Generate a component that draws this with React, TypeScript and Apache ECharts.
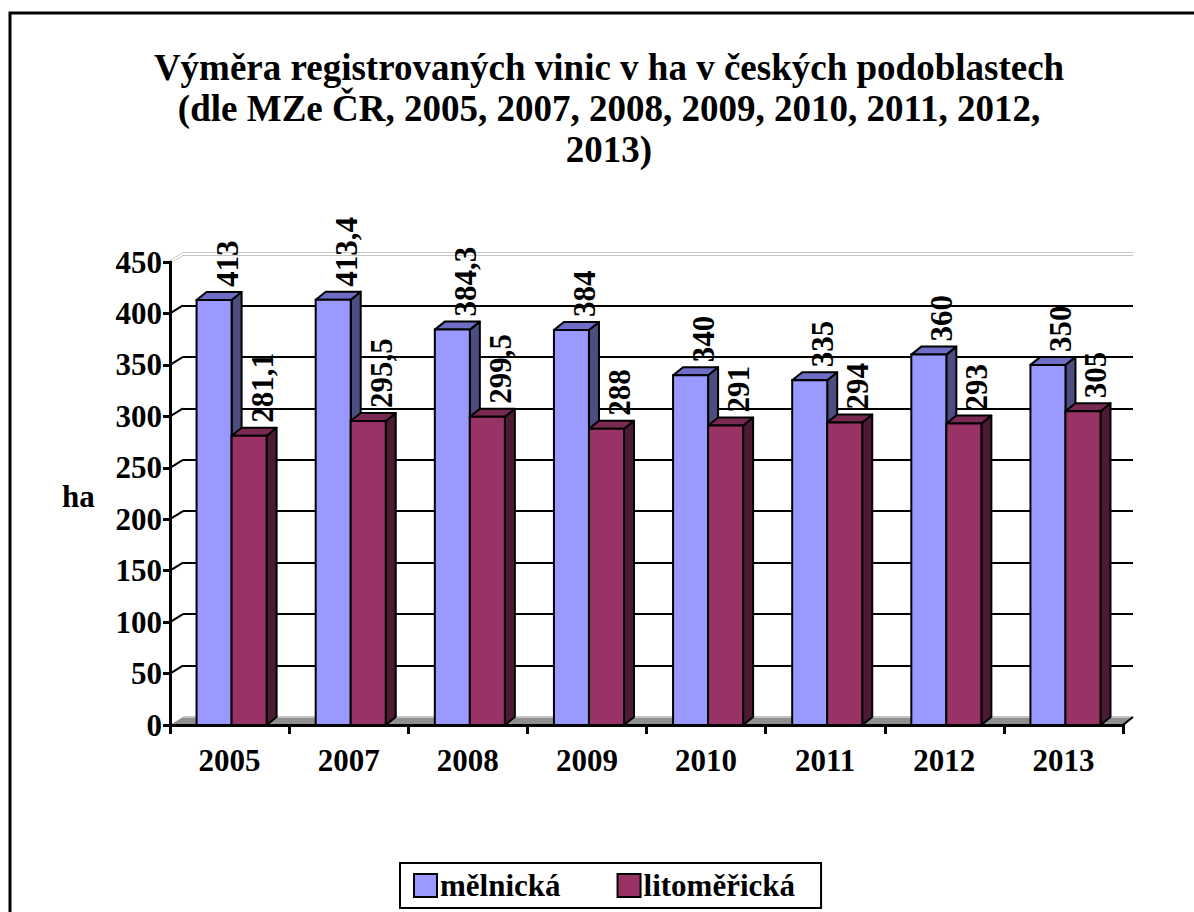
import React, { useEffect, useRef } from "react";
import * as echarts from "echarts";

const categories = ["2005", "2007", "2008", "2009", "2010", "2011", "2012", "2013"];
const melnicka = [413, 413.4, 384.3, 384, 340, 335, 360, 350];
const litomericka = [281.1, 295.5, 299.5, 288, 291, 294, 293, 305];
const yMin = 0;
const yMax = 450;
const yInterval = 50;
const yTickValues = [0, 50, 100, 150, 200, 250, 300, 350, 400, 450];
const titleLines = [
  "Výměra registrovaných vinic v ha v českých podoblastech",
  "(dle MZe ČR, 2005, 2007, 2008, 2009, 2010, 2011, 2012,",
  "2013)",
];
const seriesNames = ["mělnická", "litoměřická"];

const FONT = "Liberation Serif, Times New Roman, serif";
const DX = 10;
const DY = -8;
const WDX = 13;
const WDY = -8;

const palettes = [
  { front: "#9999FF", top: "#6E6EC6", side: "#4D4D80" },
  { front: "#993366", top: "#7A2952", side: "#4D1A33" },
];

const fmt = (v: number) => String(v).replace(".", ",");

function makeBarRender(sIdx: number) {
  const c = palettes[sIdx];
  return (params: any, api: any) => {
    const ci = api.value(0);
    const v = api.value(1);
    const b = api.coord([ci, 0]);
    const t = api.coord([ci, v]);
    const band = api.size([1, 0])[0];
    const w = band * 0.294;
    const off = band * 0.017;
    const x0 = b[0] + off + (sIdx === 0 ? -w : 0);
    const by = b[1];
    const ty = t[1];
    return {
      type: "group",
      children: [
        {
          type: "polygon",
          shape: { points: [[x0 + w, ty], [x0 + w + DX, ty + DY], [x0 + w + DX, by + DY], [x0 + w, by]] },
          style: { fill: c.side, stroke: "#000", lineWidth: 2, lineJoin: "round" },
        },
        {
          type: "polygon",
          shape: { points: [[x0, ty], [x0 + DX, ty + DY], [x0 + w + DX, ty + DY], [x0 + w, ty]] },
          style: { fill: c.top, stroke: "#000", lineWidth: 2, lineJoin: "round" },
        },
        {
          type: "rect",
          shape: { x: x0, y: ty, width: w, height: by - ty },
          style: { fill: c.front, stroke: "#000", lineWidth: 2 },
        },
        {
          type: "text",
          x: x0 + w / 2 + 13,
          y: ty + DY - 5,
          rotation: Math.PI / 2,
          z2: 20,
          style: {
            text: fmt(v),
            fill: "#000",
            fontSize: 31,
            fontWeight: "bold",
            fontFamily: FONT,
            align: "left",
            verticalAlign: "middle",
          },
        },
      ],
    };
  };
}

function decoRender(params: any, api: any) {
  const band = api.size([1, 0])[0];
  const L = api.coord([0, 0])[0] - band / 2;
  const R = api.coord([categories.length - 1, 0])[0] + band / 2;
  const y0 = api.coord([0, 0])[1];
  const children: any[] = [];
  children.push({
    type: "polygon",
    shape: { points: [[L, y0], [R, y0], [R + DX, y0 + WDY], [L + WDX, y0 + WDY]] },
    style: { fill: "#8F8F8F", stroke: null },
  });
  children.push({
    type: "line",
    shape: { x1: L + WDX, y1: y0 + WDY, x2: R + DX, y2: y0 + WDY },
    style: { stroke: "#C4C4C4", lineWidth: 2 },
  });
  children.push({
    type: "line",
    shape: { x1: R, y1: y0, x2: R + DX, y2: y0 + WDY },
    style: { stroke: "#000", lineWidth: 2 },
  });
  yTickValues.forEach((tv) => {
    const y = api.coord([0, tv])[1];
    if (tv === yMax) {
      [-1.5, 1.5].forEach((o) => {
        children.push({
          type: "polyline",
          shape: { points: [[L, y + o], [L + WDX, y + WDY + o], [R + DX, y + WDY + o]] },
          style: { stroke: "#C8C8C8", lineWidth: 1, fill: null },
        });
      });
    } else if (tv !== 0) {
      children.push({
        type: "line",
        shape: { x1: L, y1: y, x2: L + WDX, y2: y + WDY },
        style: { stroke: "#000", lineWidth: 2 },
      });
    }
  });
  return { type: "group", children };
}

export default function App() {
  const ref = useRef<HTMLDivElement>(null);
  useEffect(() => {
    if (!ref.current) return;
    const chart = echarts.init(ref.current, undefined, { renderer: "svg" });
    const option: any = {
      animation: false,
      backgroundColor: "#fff",
      title: {
        text: titleLines.join("\n"),
        left: 609,
        top: 47,
        padding: 0,
        textAlign: "center",
        textStyle: { fontFamily: FONT, fontSize: 37, fontWeight: "bold", color: "#000", lineHeight: 41 },
      },
      legend: {
        data: seriesNames,
        left: 400,
        top: 863,
        orient: "horizontal",
        itemWidth: 23,
        itemHeight: 23,
        itemGap: 56,
        icon: "rect",
        borderColor: "#000",
        borderWidth: 2,
        padding: [7, 26, 7, 13],
        textStyle: { fontFamily: FONT, fontSize: 31, fontWeight: "bold", color: "#000", padding: [0, 0, 0, -2] },
        selectedMode: false,
      },
      graphic: [
        {
          type: "rect",
          shape: { x: 10, y: 13, width: 1300, height: 1000 },
          style: { fill: null, stroke: "#000", lineWidth: 3 },
          silent: true,
          z: 100,
        },
        {
          type: "text",
          left: 62,
          top: 481,
          style: { text: "ha", fontFamily: FONT, fontSize: 31, fontWeight: "bold", fill: "#000" },
        },
      ],
      grid: [
        { left: 170, top: 262, width: 953, height: 463, containLabel: false },
        { left: 183, top: 254, width: 950, height: 463, containLabel: false },
      ],
      xAxis: [
        {
          type: "category",
          gridIndex: 0,
          data: categories,
          z: 10,
          axisLine: { show: true, lineStyle: { color: "#000", width: 3 } },
          axisTick: { show: true, length: 9, lineStyle: { color: "#000", width: 3 } },
          axisLabel: { fontFamily: FONT, fontSize: 31, fontWeight: "bold", color: "#000", margin: 20 },
          splitLine: { show: false },
        },
        {
          type: "category",
          gridIndex: 1,
          data: categories,
          show: false,
        },
      ],
      yAxis: [
        {
          type: "value",
          gridIndex: 0,
          min: yMin,
          max: yMax,
          interval: yInterval,
          z: 10,
          axisLine: { show: true, lineStyle: { color: "#000", width: 3 } },
          axisTick: { show: true, length: 7, lineStyle: { color: "#000", width: 3 } },
          axisLabel: { fontFamily: FONT, fontSize: 31, fontWeight: "bold", color: "#000", margin: 8 },
          splitLine: { show: false },
        },
        {
          type: "value",
          gridIndex: 1,
          min: yMin,
          max: yMax,
          interval: yInterval,
          axisLine: { show: false },
          axisTick: { show: false },
          axisLabel: { show: false },
          splitLine: { show: true, showMinLine: false, showMaxLine: false, lineStyle: { color: "#000", width: 2 } },
        },
      ],
      series: [
        {
          type: "custom",
          name: "deco",
          xAxisIndex: 0,
          yAxisIndex: 0,
          z: 1,
          silent: true,
          renderItem: decoRender,
          data: [[0, 0]],
          encode: { x: 0, y: 1 },
        },
        {
          type: "custom",
          name: seriesNames[0],
          xAxisIndex: 0,
          yAxisIndex: 0,
          z: 3,
          itemStyle: { color: palettes[0].front, borderColor: "#000", borderWidth: 2 },
          renderItem: makeBarRender(0),
          data: melnicka.map((v, i) => [i, v]),
          encode: { x: 0, y: 1 },
        },
        {
          type: "custom",
          name: seriesNames[1],
          xAxisIndex: 0,
          yAxisIndex: 0,
          z: 3,
          itemStyle: { color: palettes[1].front, borderColor: "#000", borderWidth: 2 },
          renderItem: makeBarRender(1),
          data: litomericka.map((v, i) => [i, v]),
          encode: { x: 0, y: 1 },
        },
      ],
    };
    chart.setOption(option);
    return () => chart.dispose();
  }, []);
  return (
    <div
      ref={ref}
      style={{ position: "absolute", left: 0, top: 0, width: 1194, height: 912, background: "#fff" }}
    />
  );
}
